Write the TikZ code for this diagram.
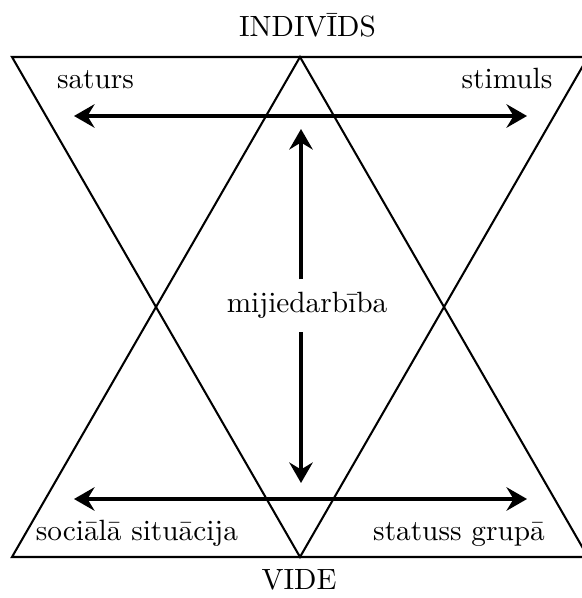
\documentclass[tikz,border=0pt]{standalone}
\usepackage{fontspec}
\usetikzlibrary{arrows.meta,positioning}
\definecolor{DiagInk}{HTML}{000000}

\begin{document}
\begin{tikzpicture}[
	x=0.012cm, y=-0.012cm,
	font=\fontsize{10}{12}\selectfont,
	edge/.style={draw=DiagInk, line width=0.7pt, line join=miter},
	link/.style={{Stealth[length=7pt,width=8pt,inset=2.4pt]}-{Stealth[length=7pt,width=8pt,inset=2.4pt]}, draw=DiagInk, line width=1.3pt},
	half/.style={-{Stealth[length=7pt,width=8pt,inset=2.4pt]}, draw=DiagInk, line width=1.2pt},
	lbl/.style={anchor=base, inner sep=0pt, text=DiagInk}
]
\useasboundingbox (0,0) rectangle (581,598);

% corners of the two triangles
\coordinate (tl) at (12,57);
\coordinate (tm) at (300,57);
\coordinate (tr) at (588,57);
\coordinate (bl) at (12,557);
\coordinate (bm) at (300,557);
\coordinate (br) at (588,557);

\draw[edge] (tl) -- (tr) -- (bm) -- cycle;
\draw[edge] (tm) -- (br) -- (bl) -- cycle;

\node[lbl] (indiv) at (307.5,37) {INDIVĪDS};
\node[lbl] (vide) at (299,589) {VIDE};
\node[lbl] (saturs) at (95.5,89) {saturs};
\node[lbl] (stimuls) at (507,89) {stimuls};
\node[lbl] (social) at (137,540) {sociālā situācija};
\node[lbl] (statuss) at (459,540) {statuss grupā};
\node[lbl, inner sep=4.3pt] (mid) at (307,313) {mijiedarbība};

% arrows
\coordinate (aL) at (74,116);
\coordinate (aR) at (527,116);
\coordinate (bL) at (74,499);
\coordinate (bR) at (527,499);
\coordinate (vtop) at (301,129);
\coordinate (vbot) at (301,483);

\draw[link] (aL) -- (aR);
\draw[link] (bL) -- (bR);
\draw[half] (vtop |- mid.north) -- (vtop);
\draw[half] (vbot |- mid.south) -- (vbot);
\end{tikzpicture}
\end{document}
